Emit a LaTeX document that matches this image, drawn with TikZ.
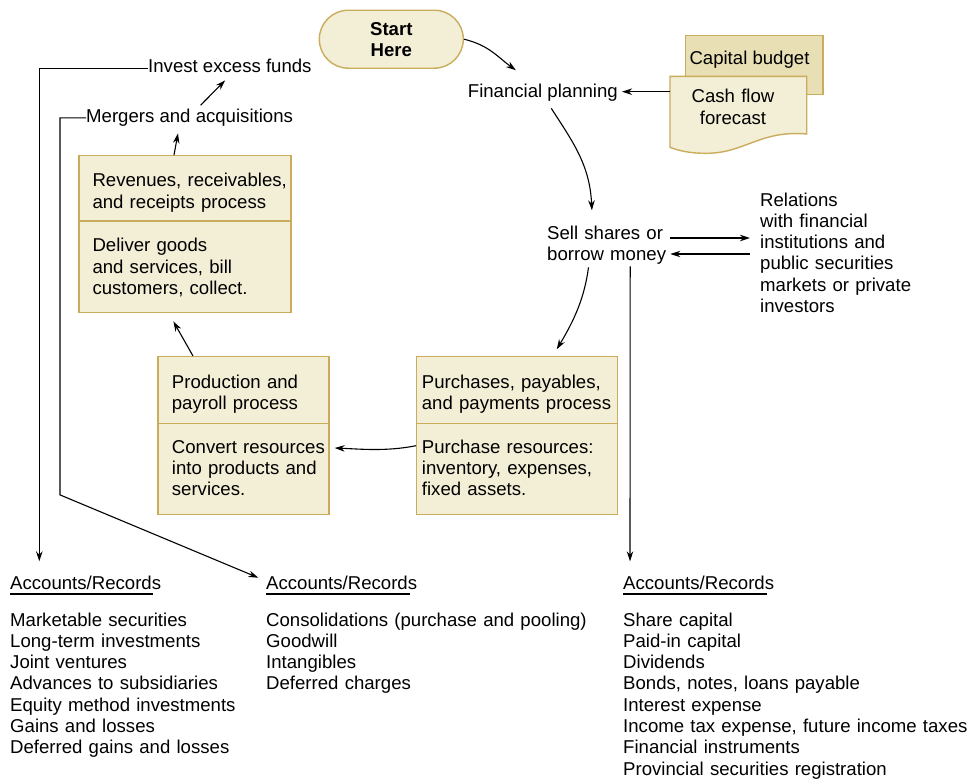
\documentclass[tikz,border=0pt]{standalone}
\usepackage{fontspec}
\setmainfont{Liberation Sans}
\usetikzlibrary{arrows.meta}

\definecolor{boxfill}{RGB}{243,238,214}
\definecolor{docfill}{RGB}{232,223,180}
\definecolor{boxline}{RGB}{201,172,92}

\begin{document}
\begin{tikzpicture}[x=1pt, y=-1pt,
    every node/.style={font=\fontsize{18.6}{21.3}\selectfont, inner sep=0pt},
    lbl/.style={anchor=base west},
    txt/.style={anchor=base west, align=left, text width=#1},
    txt/.default=380pt,
    arr/.style={-{Stealth[length=10pt,width=6.5pt]}, line width=1.1pt},
    procbox/.style={draw=boxline, fill=boxfill, line width=1.4pt, anchor=north west},
    divider/.style={draw=boxline, line width=1.4pt}]
    \useasboundingbox (0,0) rectangle (972,779);

    % Start of the cycle
    \node[draw=boxline, fill=boxfill, line width=1.4pt, rounded corners=29pt,
          minimum width=144pt, minimum height=58pt, align=center,
          font=\fontsize{18.6}{21}\selectfont\bfseries] (start) at (391.3,39.2) {Start\\Here};

    % Planning documents
    \node[draw=boxline, fill=docfill, line width=1.4pt, anchor=north west,
          minimum width=137.6pt, minimum height=59pt] (capb) at (684.7,35) {};
    \node[lbl] (capbtxt) at (689.3,64) {Capital budget};
    \draw[draw=boxline, fill=boxfill, line width=1.4pt]
        (670,147.3) -- (670,76.3) -- (806.7,76.3) -- (806.7,134)
        .. controls (760,130) and (745,153) .. (707,153.3)
        .. controls (690,153.5) and (678,150.5) .. (670,147.3) -- cycle;
    \coordinate (cashin) at (670,91.7);
    \node[anchor=base, align=center, text width=120pt] (cashtxt) at (733,102.7) {Cash flow\\forecast};

    % Financing
    \node[lbl] (fin) at (467.7,97.3) {Financial planning};
    \node[txt=130pt] (sell) at (547,239) {Sell shares or\\borrow money};
    \node[txt=180pt] (rel) at (760,206) {Relations\\with financial\\institutions and\\public securities\\markets or private\\investors};

    % Process boxes
    \node[procbox, minimum width=200.7pt, minimum height=158pt] (purch) at (416,356) {};
    \draw[divider] (purch.west |- 0,423.3) -- (purch.east |- 0,423.3);
    \node[txt] (purchhead) at (421.7,388.3) {Purchases, payables,\\and payments process};
    \node[txt] (purchbody) at (421.7,453.3) {Purchase resources:\\inventory, expenses,\\fixed assets.};

    \node[procbox, minimum width=171pt, minimum height=158pt] (prod) at (157.3,356) {};
    \draw[divider] (prod.west |- 0,423.3) -- (prod.east |- 0,423.3);
    \node[txt] (prodhead) at (171.7,388.3) {Production and\\payroll process};
    \node[txt] (prodbody) at (171.7,453.3) {Convert resources\\into products and\\services.};

    \node[procbox, minimum width=212pt, minimum height=157pt] (rev) at (78.3,155) {};
    \draw[divider] (rev.west |- 0,221) -- (rev.east |- 0,221);
    \node[txt] (revhead) at (92.3,186.7) {Revenues, receivables,\\and receipts process};
    \node[txt] (revbody) at (92.3,251.7) {Deliver goods\\and services, bill\\customers, collect.};

    % Uses of cash
    \node[lbl] (merg) at (86,122.7) {Mergers and acquisitions};
    \node[lbl] (invest) at (148,72.7) {Invest excess funds};

    % Accounts and records
    \node[lbl] (acc1) at (10,589) {Accounts/Records};
    \node[lbl] (acc2) at (266,589) {Accounts/Records};
    \node[lbl] (acc3) at (623,589) {Accounts/Records};
    \draw[line width=1.1pt] ([yshift=-5pt]acc1.base west) -- ++(143,0);
    \draw[line width=1.1pt] ([yshift=-5pt]acc2.base west) -- ++(144,0);
    \draw[line width=1.1pt] ([yshift=-5pt]acc3.base west) -- ++(144,0);

    \node[txt] (list1) at (10,626) {Marketable securities\\Long-term investments\\Joint ventures\\Advances to subsidiaries\\Equity method investments\\Gains and losses\\Deferred gains and losses};
    \node[txt] (list2) at (266,626) {Consolidations (purchase and pooling)\\Goodwill\\Intangibles\\Deferred charges};
    \node[txt] (list3) at (623,626) {Share capital\\Paid-in capital\\Dividends\\Bonds, notes, loans payable\\Interest expense\\Income tax expense, future income taxes\\Financial instruments\\Provincial securities registration};

    % The cycle
    \draw[arr] (start.east) .. controls +(25,6) and +(-18,-13) .. ([xshift=-27pt,yshift=13.4pt]fin.north);
    \draw[arr] (cashin) -- ([xshift=4pt]fin.east |- cashin);
    \draw[arr] ([xshift=8.4pt,yshift=-7pt]fin.south) .. controls +(22,34) and +(-2,-45) .. ([xshift=-20.3pt,yshift=15pt]sell.north);
    \draw[arr] ([xshift=-7pt]sell.east |- 0,238) -- ([xshift=-10pt]rel.west |- 0,238);
    \draw[arr] ([xshift=-10pt]rel.west |- 0,254) -- ([xshift=-7pt]sell.east |- 0,254);
    \draw[arr] ([xshift=-23.7pt,yshift=-3pt]sell.south) .. controls +(-4,30) and +(18,-30) .. ([xshift=39.7pt,yshift=6.7pt]purch.north);
    \draw[arr] ([yshift=-10pt]purch.west) .. controls +(-30,6) and +(25,1) .. ([xshift=5pt,yshift=-12.3pt]prod.east);
    \draw[arr] ([xshift=-50.5pt]prod.north) -- ([xshift=-11.6pt,yshift=-8pt]rev.south);
    \draw[arr] ([xshift=-11pt]rev.north) -- ([xshift=-11.6pt,yshift=-6.6pt]merg.south);
    \draw[arr] ([xshift=11pt,yshift=3.8pt]merg.north) -- ([xshift=-4.7pt,yshift=-7.3pt]invest.south);

    % Links down to the records
    \draw[arr] ([yshift=-2pt]invest.west) -| ([xshift=29.3pt,yshift=14pt]acc1.north west);
    \draw[arr] (merg.west) -- ++(-26,0) -- ++(0,377) -- ([xshift=-7.7pt,yshift=-2.4pt]acc2.north west);
    \draw[arr] ([xshift=18pt,yshift=-2pt]sell.south) -- ([xshift=7pt,yshift=14pt]acc3.north west);
\end{tikzpicture}
\end{document}
